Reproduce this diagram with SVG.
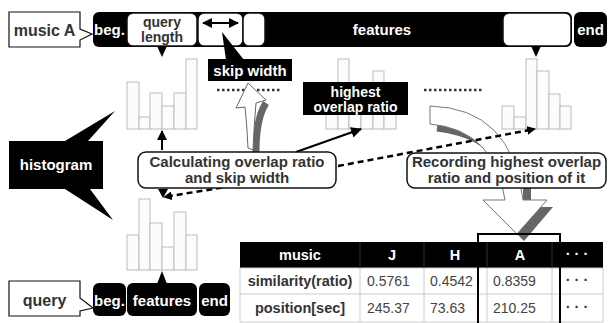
<svg xmlns="http://www.w3.org/2000/svg" width="610" height="323" viewBox="0 0 610 323">
<defs>
<style>
.t{font-family:"Liberation Sans",Arial,sans-serif;font-weight:bold;font-size:15px;text-anchor:middle}
.s{font-size:14px}
.w{fill:#fff}
.d{fill:#333}
.n{font-family:"Liberation Sans",Arial,sans-serif;font-size:14px;fill:#444}
.blk{fill:#000}
.wb{fill:#fff;stroke:#111;stroke-width:1.5}
.bar{fill:#fcfcfc;stroke:#bbb;stroke-width:1}
.dots{stroke:#333;stroke-width:2.5;stroke-dasharray:2.5,2.5;fill:none}
.grid{stroke:#ccc;stroke-width:1;fill:none}
</style>
<marker id="ah" viewBox="0 0 10 10" refX="9" refY="5" markerWidth="5" markerHeight="5" orient="auto-start-reverse" markerUnits="strokeWidth">
<path d="M0,0 L10,5 L0,10 Z" fill="#000"/>
</marker>
<marker id="ah2" viewBox="0 0 10 10" refX="9" refY="5" markerWidth="3.5" markerHeight="3.5" orient="auto-start-reverse" markerUnits="strokeWidth">
<path d="M0,0 L10,5 L0,10 Z" fill="#000"/>
</marker>
</defs>
<rect width="610" height="323" fill="#fff"/>

<!-- histograms -->
<g id="hist1">
<rect class="bar" x="127" y="82" width="12" height="47"/>
<rect class="bar" x="139" y="117" width="11" height="12"/>
<rect class="bar" x="150" y="93" width="12" height="36"/>
<rect class="bar" x="162" y="106" width="12" height="23"/>
<rect class="bar" x="174" y="93" width="12" height="36"/>
<rect class="bar" x="186" y="59" width="11" height="70"/>
</g>
<g id="hist2">
<rect class="bar" x="326" y="100" width="12" height="29"/>
<rect class="bar" x="338" y="59" width="11" height="70"/>
<rect class="bar" x="349" y="95" width="12" height="34"/>
<rect class="bar" x="361" y="90" width="12" height="39"/>
<rect class="bar" x="373" y="71" width="11" height="58"/>
<rect class="bar" x="384" y="100" width="12" height="29"/>
</g>
<g id="hist3">
<rect class="bar" x="502" y="106" width="12" height="23"/>
<rect class="bar" x="514" y="117" width="12" height="12"/>
<rect class="bar" x="526" y="59" width="11" height="70"/>
<rect class="bar" x="537" y="71" width="12" height="58"/>
<rect class="bar" x="549" y="94" width="11" height="35"/>
<rect class="bar" x="560" y="106" width="11" height="23"/>
</g>
<g id="hist4">
<rect class="bar" x="127" y="235" width="12" height="35"/>
<rect class="bar" x="139" y="199" width="11" height="71"/>
<rect class="bar" x="150" y="223" width="12" height="47"/>
<rect class="bar" x="162" y="247" width="12" height="23"/>
<rect class="bar" x="174" y="212" width="12" height="58"/>
<rect class="bar" x="186" y="235" width="11" height="35"/>
</g>

<!-- dotted ellipsis -->
<line class="dots" x1="217" y1="90" x2="282" y2="90"/>
<line class="dots" x1="424" y1="90" x2="483" y2="90"/>

<!-- big curved white arrow -->
<g id="record-arrow">
<path d="M437,128 Q486,134 503,165" stroke="#666" stroke-width="7" fill="none"/>
<rect x="523" y="186" width="8" height="15" fill="#666"/>
<path d="M430,106 Q512,108 523,200 L547,200 L517,234 L483,200 L505,200 Q495,130 430,124 Z" fill="#fff" stroke="#777" stroke-width="1"/>
<polygon points="541,207 553,207 524,241 517,234" fill="#666"/>
</g>

<!-- small white arrow to skip width -->
<g id="skip-arrow">
<path d="M256,152 Q256,118 266,103" stroke="#666" stroke-width="7" fill="none"/>
<path d="M248,83 L266,100 L256,103 Q254,125 253,150 L248,148 Q247,125 245,107 L236,108 Z" fill="#fff" stroke="#666" stroke-width="1"/>
</g>

<!-- connectors -->
<g id="connectors" fill="none" stroke="#000">
<line x1="162" y1="150" x2="162" y2="131" stroke-width="2" marker-end="url(#ah)"/>
<line x1="296" y1="152" x2="361" y2="129" stroke-width="2.2" marker-end="url(#ah)"/>
<line x1="338" y1="166" x2="535" y2="129" stroke-width="2.5" stroke-dasharray="6,4" marker-end="url(#ah2)"/>
<line x1="232" y1="186" x2="164" y2="197" stroke-width="2.5" stroke-dasharray="6,4" marker-end="url(#ah2)"/>
<polygon points="158,189 168,189 163,198" fill="#000" stroke="none"/>
</g>

<!-- top bar: music A -->
<g id="musicA-bar">
<rect class="blk" x="93" y="12" width="479" height="35" rx="6"/>
<rect class="blk" x="574" y="12" width="33" height="35" rx="6"/>
<text class="t w" x="109.5" y="35">beg.</text>
<rect class="wb" x="127" y="13" width="70" height="33" rx="6"/>
<polygon points="157,46 167,46 162,57" fill="#000"/>
<text class="t s d" x="162" y="27">query</text>
<text class="t s d" x="162" y="42">length</text>
<rect class="wb" x="198" y="13" width="45" height="33" rx="6"/>
<rect class="wb" x="243" y="13" width="22" height="33" rx="6"/>
<line x1="203" y1="23" x2="238" y2="23" stroke="#000" stroke-width="2" marker-start="url(#ah)" marker-end="url(#ah)"/>
<text class="t w" x="382" y="35">features</text>
<rect class="wb" x="503" y="13" width="68" height="33" rx="6"/>
<polygon points="531,46 541,46 536,57" fill="#000"/>
<text class="t w" x="590.5" y="35">end</text>
</g>
<g id="musicA-label">
<path d="M9,12 L80,12 L80,29 L92,34 L80,40 L80,47 L9,47 Z" fill="#fff" stroke="#111" stroke-width="1.2"/>
<text class="t d" x="44.5" y="36" style="font-size:16px">music A</text>
</g>

<!-- skip width -->
<g id="skip-width">
<polygon points="222,32 244,60 226,60" fill="#000"/>
<rect class="blk" x="208" y="59" width="84" height="22"/>
<text class="t w" x="250" y="76">skip width</text>
</g>

<!-- highest overlap ratio -->
<g id="highest">
<rect class="blk" x="303" y="82" width="105" height="33"/>
<text class="t s w" x="355.5" y="97">highest</text>
<text class="t s w" x="355.5" y="112">overlap ratio</text>
</g>

<!-- histogram label -->
<g id="histogram-label">
<path d="M9,141 L65,141 L115,111 L88,141 L103,141 L103,189 L90,189 L113,220 L65,189 L9,189 Z" fill="#000"/>
<text class="t w" x="56" y="170">histogram</text>
</g>

<!-- Calculating box -->
<g id="calc">
<rect class="wb" x="138" y="152" width="198" height="36" rx="8"/>
<text class="t d" x="237" y="167">Calculating overlap ratio</text>
<text class="t d" x="237" y="183">and skip width</text>
</g>

<!-- Recording box -->
<g id="record">
<rect class="wb" x="407" y="153" width="199" height="35" rx="8"/>
<text class="t d" x="506.5" y="167">Recording highest overlap</text>
<text class="t d" x="506.5" y="183">ratio and position of it</text>
</g>

<!-- query bar -->
<g id="query-bar">
<rect class="blk" x="93" y="283" width="33" height="33" rx="6"/>
<rect class="blk" x="127" y="283" width="70" height="33" rx="6"/>
<rect class="blk" x="199" y="283" width="31" height="33" rx="6"/>
<polygon points="157,284 167,284 162,271" fill="#000"/>
<text class="t w" x="109.5" y="306">beg.</text>
<text class="t w" x="162" y="306">features</text>
<text class="t w" x="214.5" y="306">end</text>
</g>
<g id="query-label">
<path d="M9,281 L80,281 L80,298 L93,308 L80,311 L80,316 L9,316 Z" fill="#fff" stroke="#111" stroke-width="1.2"/>
<text class="t d" x="44.5" y="306" style="font-size:16px">query</text>
</g>

<!-- table -->
<g id="table">
<rect x="240" y="242" width="363" height="26" fill="#000"/>
<rect x="240" y="268" width="363" height="54" fill="#fff" stroke="#ccc"/>
<line class="grid" x1="240" y1="294" x2="603" y2="294"/>
<line class="grid" x1="360" y1="268" x2="360" y2="322"/>
<line class="grid" x1="424" y1="268" x2="424" y2="322"/>
<line class="grid" x1="487" y1="268" x2="487" y2="322"/>
<line class="grid" x1="552" y1="268" x2="552" y2="322"/>
<line x1="360" y1="242" x2="360" y2="268" stroke="#333"/>
<line x1="424" y1="242" x2="424" y2="268" stroke="#333"/>
<line x1="487" y1="242" x2="487" y2="268" stroke="#333"/>
<line x1="552" y1="242" x2="552" y2="268" stroke="#333"/>
<g class="t" style="font-size:14.5px">
<text class="w" x="300" y="260">music</text>
<text class="w" x="392" y="260">J</text>
<text class="w" x="455" y="260">H</text>
<text class="w" x="520" y="260">A</text>
<text class="w" x="577" y="259">· · ·</text>
<text class="d" x="300" y="286">similarity(ratio)</text>
<text class="d" x="300" y="313">position[sec]</text>
<text class="d" x="577" y="285">· · ·</text>
<text class="d" x="577" y="312">· · ·</text>
</g>
<text class="n" x="367" y="286">0.5761</text>
<text class="n" x="430" y="286">0.4542</text>
<text class="n" x="493" y="286">0.8359</text>
<text class="n" x="367" y="313">245.37</text>
<text class="n" x="430" y="313">73.63</text>
<text class="n" x="493" y="313">210.25</text>
<rect x="478" y="234" width="82" height="100" fill="none" stroke="#000" stroke-width="2"/>
</g>
</svg>
